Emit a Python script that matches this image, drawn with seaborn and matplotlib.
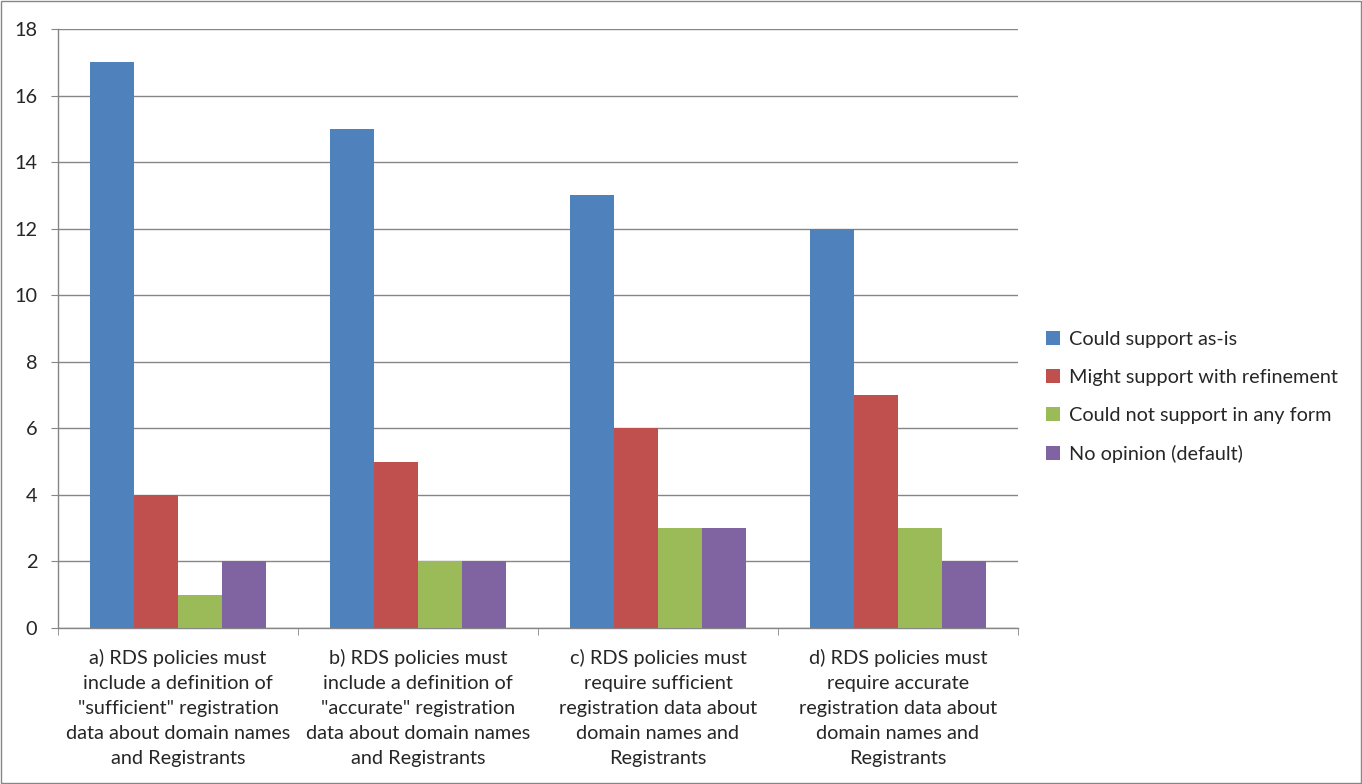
import pandas as pd
import matplotlib.pyplot as plt
import seaborn as sns
from matplotlib.patches import Rectangle

# chart data
categories = [
    'a) RDS policies must\ninclude a definition of\n"sufficient" registration\ndata about domain names\nand Registrants',
    'b) RDS policies must\ninclude a definition of\n"accurate" registration\ndata about domain names\nand Registrants',
    'c) RDS policies must\nrequire sufficient\nregistration data about\ndomain names and\nRegistrants',
    'd) RDS policies must\nrequire accurate\nregistration data about\ndomain names and\nRegistrants',
]
series = [
    "Could support as-is",
    "Might support with refinement",
    "Could not support in any form",
    "No opinion (default)",
]
could_support = [17, 15, 13, 12]
might_support = [4, 5, 6, 7]
could_not_support = [1, 2, 3, 3]
no_opinion = [2, 2, 3, 2]
colors = ["#4F81BD", "#C0504D", "#9BBB59", "#8064A2"]

values = [could_support, might_support, could_not_support, no_opinion]
rows = []
for name, vals in zip(series, values):
    for cat, v in zip(categories, vals):
        rows.append({"category": cat, "series": name, "value": v})
df = pd.DataFrame(rows)

sns.set_style("white")
plt.rcParams["font.family"] = ["Lato", "DejaVu Sans"]

fig = plt.figure(figsize=(13.62, 7.84), dpi=100)
ax = fig.add_axes([58 / 1362, 1 - 628 / 784, 960 / 1362, 599 / 784])

sns.barplot(data=df, x="category", y="value", hue="series", order=categories,
            hue_order=series, palette=colors, width=0.733, saturation=1,
            linewidth=0, ax=ax, zorder=3)

grid_c = "#868686"
fs = 14.3
ax.set_ylim(0, 18)
ax.set_yticks(range(0, 19, 2))
ax.set_xlim(-0.5, len(categories) - 0.5)
ax.yaxis.grid(True, color=grid_c, linewidth=1, zorder=0)
ax.set_axisbelow(True)
for s in ["top", "right"]:
    ax.spines[s].set_visible(False)
for s in ["left", "bottom"]:
    ax.spines[s].set_color(grid_c)
    ax.spines[s].set_linewidth(1)

ax.set_xlabel("")
ax.set_ylabel("")
ax.tick_params(axis="y", length=5, color=grid_c, labelsize=fs, left=True, pad=10)
ax.tick_params(axis="x", which="major", length=0, labelsize=fs, pad=15)
ax.set_xticks([i - 0.5 for i in range(len(categories) + 1)], minor=True)
ax.tick_params(axis="x", which="minor", length=5, color=grid_c, bottom=True)
for lab in ax.get_xticklabels():
    lab.set_linespacing(1.58)

ax.legend(loc="center left", bbox_to_anchor=(1.019, 0.386), frameon=False,
          fontsize=fs, handlelength=0.7, handleheight=0.7, handletextpad=0.45,
          labelspacing=1.06, borderpad=0)

fig.patches.append(Rectangle((0.001, 0.001), 0.998, 0.998, transform=fig.transFigure,
                             fill=False, edgecolor=grid_c, linewidth=1))

fig.savefig("out.png", dpi=100)
plt.close(fig)
